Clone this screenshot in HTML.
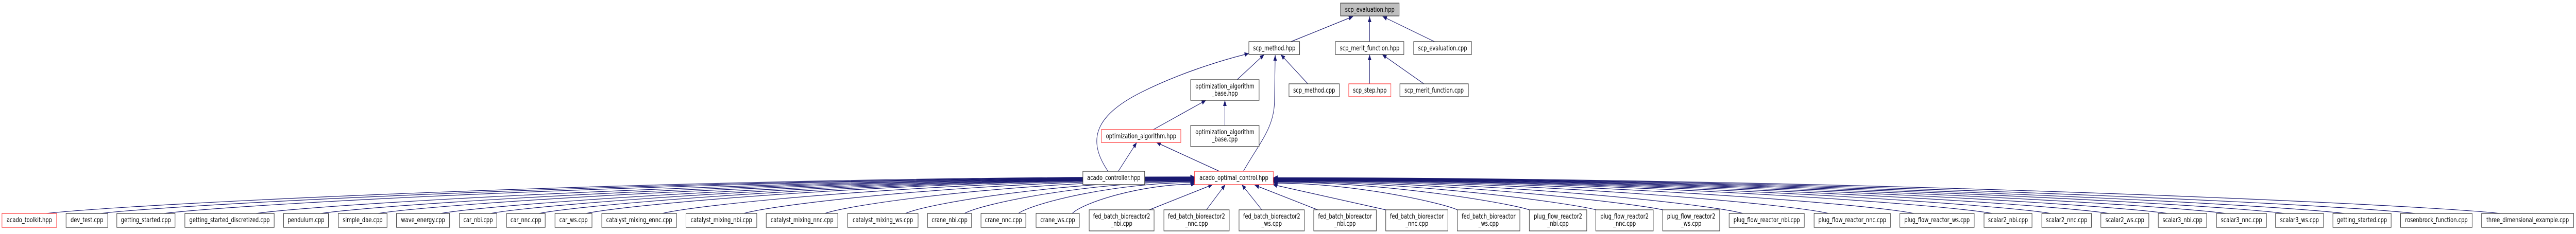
<!DOCTYPE html>
<html><head><meta charset="utf-8"><style>
html,body{margin:0;padding:0;background:#fff;width:100%;height:100%;overflow:hidden;}
svg{display:block;position:fixed;left:0;top:0;width:100vw;height:100vh;}
text{font-family:"DejaVu Sans","Liberation Sans",sans-serif;font-size:13px;fill:#000;text-anchor:middle;}
.b{fill:#fff;stroke:#404040;stroke-width:1.3;}
.r{fill:#fff;stroke:#ff4040;stroke-width:1.3;}
.g{fill:#bfbfbf;stroke:#404040;stroke-width:1.3;}
.e{fill:none;stroke:#191970;stroke-width:1.2;marker-end:url(#a);}
</style></head><body>
<svg viewBox="0 0 6549 455" preserveAspectRatio="none" xmlns="http://www.w3.org/2000/svg">
<defs><marker id="a" markerUnits="userSpaceOnUse" markerWidth="11" markerHeight="9" refX="11" refY="4.5" orient="auto"><path d="M0,0 L11,4.5 L0,9z" fill="#191970"/></marker></defs>

<path class="e" d="M3282 81 L3440 32"/>
<path class="e" d="M3482 81 L3482 32"/>
<path class="e" d="M3647 81 L3515 32"/>
<path class="e" d="M3325 163 L3256 106"/>
<path class="e" d="M3482 163 L3482 106"/>
<path class="e" d="M3620 163 L3514 106"/>
<path class="e" d="M3145 155 L3214 106"/>
<path class="e" d="M2817 333 C2770 280, 2770 230, 2900 180 C2990 145, 3100 118, 3175 104"/>
<path class="e" d="M3161 333 C3200 280, 3238 250, 3240 200 L3242 107"/>
<path class="e" d="M2843 333 L2890 277"/>
<path class="e" d="M3100 333 L2940 277"/>
<path class="e" d="M2932 252 L3066 195"/>
<path class="e" d="M3114 244 L3114 195"/>

<path class="e" d="M118 415 C352 395, 1723 344, 3037 344"/>
<path class="e" d="M256 415 C478 395, 1786 345, 3037 345"/>
<path class="e" d="M417 415 C627 395, 1858 345.5, 3037 345.5"/>
<path class="e" d="M651 415 C842 395, 1963 346, 3037 346"/>
<path class="e" d="M816 415 C994 395, 2038 346.5, 3037 346.5"/>
<path class="e" d="M961 415 C1127 395, 2103 347, 3037 347"/>
<path class="e" d="M1120 415 C1273 395, 2174 347.5, 3037 347.5"/>
<path class="e" d="M1247 415 C1390 395, 2231 348, 3037 348"/>
<path class="e" d="M1370 415 C1503 395, 2287 348.5, 3037 348.5"/>
<path class="e" d="M1490 415 C1614 395, 2341 349, 3037 349"/>
<path class="e" d="M1684 415 C1792 395, 2428 349.5, 3037 349.5"/>
<path class="e" d="M1891 415 C1983 395, 2521 350, 3037 350"/>
<path class="e" d="M2097 415 C2172 395, 2614 351, 3037 351"/>
<path class="e" d="M2302 415 C2361 395, 2706 352, 3037 352"/>
<path class="e" d="M2452 415 C2499 395, 2774 353, 3037 353"/>
<path class="e" d="M2589 415 C2625 395, 2835 355, 3037 355"/>
<path class="e" d="M2726 415 C2751 395, 2897 358, 3039 358"/>

<path class="e" d="M2922 408 L3083 359"/>
<path class="e" d="M3067 408 L3115 359"/>
<path class="e" d="M3208 408 L3157 359"/>
<path class="e" d="M3350 408 L3190 360"/>
<path class="e" d="M3523 408 L3236 359"/>

<path class="e" d="M3705 408 C3668 395, 3448 356, 3237 356"/>
<path class="e" d="M3888 408 C3836 395, 3530 354, 3237 354"/>
<path class="e" d="M4058 408 C3992 395, 3606 353, 3237 353"/>
<path class="e" d="M4228 408 C4149 395, 3683 352, 3237 352"/>
<path class="e" d="M4431 415 C4335 395, 3774 351, 3237 351"/>
<path class="e" d="M4649 415 C4536 395, 3872 350.5, 3237 350.5"/>
<path class="e" d="M4866 415 C4736 395, 3970 350, 3237 350"/>
<path class="e" d="M5065 415 C4919 395, 4060 349.5, 3237 349.5"/>
<path class="e" d="M5214 415 C5056 395, 4127 349, 3237 349"/>
<path class="e" d="M5362 415 C5192 395, 4193 348.5, 3237 348.5"/>
<path class="e" d="M5511 415 C5329 395, 4260 348, 3237 348"/>
<path class="e" d="M5658 415 C5464 395, 4326 347.5, 3237 347.5"/>
<path class="e" d="M5808 415 C5602 395, 4394 347, 3237 347"/>
<path class="e" d="M5960 415 C5742 395, 4462 346.5, 3237 346.5"/>
<path class="e" d="M6140 415 C5908 395, 4543 346, 3237 346"/>
<path class="e" d="M6357 415 C6107 395, 4641 345.5, 3237 345.5"/>

<rect class="g" x="3408" y="6" width="149" height="25"/><text x="3482.5" y="23">scp_evaluation.hpp</text>
<rect class="b" x="3175" y="81" width="129" height="25"/><text x="3239.5" y="98">scp_method.hpp</text>
<rect class="b" x="3395" y="81" width="174" height="25"/><text x="3482" y="98">scp_merit_function.hpp</text>
<rect class="b" x="3594" y="81" width="147" height="25"/><text x="3667.5" y="98">scp_evaluation.cpp</text>
<rect class="b" x="3027" y="155" width="174" height="40"/><text x="3114" y="172">optimization_algorithm</text><text x="3114" y="186">_base.hpp</text>
<rect class="b" x="3277" y="163" width="128" height="25"/><text x="3341" y="180">scp_method.cpp</text>
<rect class="r" x="3429" y="163" width="107" height="25"/><text x="3482.5" y="180">scp_step.hpp</text>
<rect class="b" x="3559" y="163" width="174" height="25"/><text x="3646" y="180">scp_merit_function.cpp</text>
<rect class="r" x="2800" y="252" width="202" height="25"/><text x="2901" y="269">optimization_algorithm.hpp</text>
<rect class="b" x="3027" y="244" width="174" height="41"/><text x="3114" y="261">optimization_algorithm</text><text x="3114" y="275">_base.cpp</text>
<rect class="b" x="2753" y="333" width="157" height="26"/><text x="2831.5" y="350">acado_controller.hpp</text>
<rect class="r" x="3037" y="333" width="200" height="26"/><text x="3137" y="350">acado_optimal_control.hpp</text>

<rect class="r" x="5" y="415" width="139" height="27"/><text x="74.5" y="432">acado_toolkit.hpp</text>
<rect class="b" x="168" y="415" width="106" height="27"/><text x="221" y="432">dev_test.cpp</text>
<rect class="b" x="297" y="415" width="148" height="27"/><text x="371" y="432">getting_started.cpp</text>
<rect class="b" x="470" y="415" width="227" height="27"/><text x="583.5" y="432">getting_started_discretized.cpp</text>
<rect class="b" x="721" y="415" width="114" height="27"/><text x="778" y="432">pendulum.cpp</text>
<rect class="b" x="860" y="415" width="124" height="27"/><text x="922" y="432">simple_dae.cpp</text>
<rect class="b" x="1008" y="415" width="135" height="27"/><text x="1075.5" y="432">wave_energy.cpp</text>
<rect class="b" x="1168" y="415" width="95" height="27"/><text x="1215.5" y="432">car_nbi.cpp</text>
<rect class="b" x="1288" y="415" width="98" height="27"/><text x="1337" y="432">car_nnc.cpp</text>
<rect class="b" x="1411" y="415" width="94" height="27"/><text x="1458" y="432">car_ws.cpp</text>
<rect class="b" x="1530" y="415" width="190" height="27"/><text x="1625" y="432">catalyst_mixing_ennc.cpp</text>
<rect class="b" x="1744" y="415" width="180" height="27"/><text x="1834" y="432">catalyst_mixing_nbi.cpp</text>
<rect class="b" x="1948" y="415" width="182" height="27"/><text x="2039" y="432">catalyst_mixing_nnc.cpp</text>
<rect class="b" x="2155" y="415" width="179" height="27"/><text x="2244.5" y="432">catalyst_mixing_ws.cpp</text>
<rect class="b" x="2358" y="415" width="112" height="27"/><text x="2414" y="432">crane_nbi.cpp</text>
<rect class="b" x="2494" y="415" width="114" height="27"/><text x="2551" y="432">crane_nnc.cpp</text>
<rect class="b" x="2634" y="415" width="110" height="27"/><text x="2689" y="432">crane_ws.cpp</text>

<rect class="b" x="2769" y="408" width="165" height="41"/><text x="2851.5" y="425">fed_batch_bioreactor2</text><text x="2851.5" y="439">_nbi.cpp</text>
<rect class="b" x="2959" y="408" width="166" height="41"/><text x="3042" y="425">fed_batch_bioreactor2</text><text x="3042" y="439">_nnc.cpp</text>
<rect class="b" x="3150" y="408" width="166" height="41"/><text x="3233" y="425">fed_batch_bioreactor2</text><text x="3233" y="439">_ws.cpp</text>
<rect class="b" x="3340" y="408" width="159" height="41"/><text x="3419.5" y="425">fed_batch_bioreactor</text><text x="3419.5" y="439">_nbi.cpp</text>
<rect class="b" x="3523" y="408" width="158" height="41"/><text x="3602" y="425">fed_batch_bioreactor</text><text x="3602" y="439">_nnc.cpp</text>
<rect class="b" x="3705" y="408" width="159" height="41"/><text x="3784.5" y="425">fed_batch_bioreactor</text><text x="3784.5" y="439">_ws.cpp</text>
<rect class="b" x="3888" y="408" width="146" height="41"/><text x="3961" y="425">plug_flow_reactor2</text><text x="3961" y="439">_nbi.cpp</text>
<rect class="b" x="4057" y="408" width="146" height="41"/><text x="4130" y="425">plug_flow_reactor2</text><text x="4130" y="439">_nnc.cpp</text>
<rect class="b" x="4227" y="408" width="145" height="41"/><text x="4299.5" y="425">plug_flow_reactor2</text><text x="4299.5" y="439">_ws.cpp</text>

<rect class="b" x="4396" y="415" width="191" height="27"/><text x="4491.5" y="432">plug_flow_reactor_nbi.cpp</text>
<rect class="b" x="4612" y="415" width="194" height="27"/><text x="4709" y="432">plug_flow_reactor_nnc.cpp</text>
<rect class="b" x="4830" y="415" width="189" height="27"/><text x="4924.5" y="432">plug_flow_reactor_ws.cpp</text>
<rect class="b" x="5044" y="415" width="122" height="27"/><text x="5105" y="432">scalar2_nbi.cpp</text>
<rect class="b" x="5191" y="415" width="126" height="27"/><text x="5254" y="432">scalar2_nnc.cpp</text>
<rect class="b" x="5341" y="415" width="122" height="27"/><text x="5402" y="432">scalar2_ws.cpp</text>
<rect class="b" x="5487" y="415" width="123" height="27"/><text x="5548.5" y="432">scalar3_nbi.cpp</text>
<rect class="b" x="5635" y="415" width="127" height="27"/><text x="5698.5" y="432">scalar3_nnc.cpp</text>
<rect class="b" x="5785" y="415" width="122" height="27"/><text x="5846" y="432">scalar3_ws.cpp</text>
<rect class="b" x="5931" y="415" width="148" height="27"/><text x="6005" y="432">getting_started.cpp</text>
<rect class="b" x="6103" y="415" width="182" height="27"/><text x="6194" y="432">rosenbrock_function.cpp</text>
<rect class="b" x="6309" y="415" width="234" height="27"/><text x="6426" y="432">three_dimensional_example.cpp</text>
</svg>
</body></html>
